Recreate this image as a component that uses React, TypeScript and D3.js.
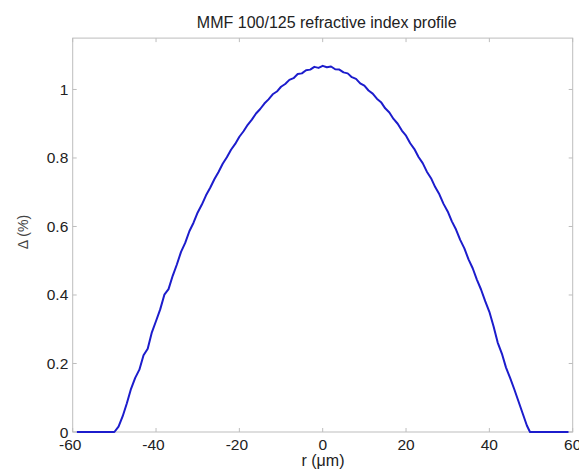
import React from "react";
import * as d3 from "d3";

const titleText = "MMF 100/125 refractive index profile";
const xLabel = "r (\u03bcm)";
const yLabel = "\u0394 (%)";

const xTicks = [-60, -40, -20, 0, 20, 40, 60];
const yTicks = [0, 0.2, 0.4, 0.6, 0.8, 1];

const radius = [
  -59, -58, -57, -56, -55, -54, -53, -52, -51, -50,
  -49, -48, -47, -46, -45, -44, -43, -42, -41, -40,
  -39, -38, -37, -36, -35, -34, -33, -32, -31, -30,
  -29, -28, -27, -26, -25, -24, -23, -22, -21, -20,
  -19, -18, -17, -16, -15, -14, -13, -12, -11, -10,
  -9, -8, -7, -6, -5, -4, -3, -2, -1, 0,
  1, 2, 3, 4, 5, 6, 7, 8, 9, 10,
  11, 12, 13, 14, 15, 16, 17, 18, 19, 20,
  21, 22, 23, 24, 25, 26, 27, 28, 29, 30,
  31, 32, 33, 34, 35, 36, 37, 38, 39, 40,
  41, 42, 43, 44, 45, 46, 47, 48, 49, 49.75,
  51, 52, 53, 54, 55, 56, 57, 58, 59,
];

const delta = [
  0, 0, 0, 0, 0, 0, 0, 0, 0, 0,
  0.016, 0.046, 0.084, 0.126, 0.158, 0.182, 0.224, 0.243, 0.291, 0.324,
  0.358, 0.401, 0.417, 0.456, 0.489, 0.526, 0.552, 0.586, 0.611, 0.641,
  0.664, 0.691, 0.713, 0.738, 0.759, 0.783, 0.802, 0.824, 0.841, 0.862,
  0.878, 0.897, 0.912, 0.930, 0.943, 0.959, 0.971, 0.986, 0.994, 1.008,
  1.016, 1.028, 1.033, 1.045, 1.047, 1.056, 1.058, 1.066, 1.063, 1.069,
  1.065, 1.067, 1.059, 1.058, 1.050, 1.047, 1.036, 1.031, 1.018, 1.011,
  0.997, 0.988, 0.973, 0.963, 0.945, 0.933, 0.914, 0.900, 0.880, 0.865,
  0.843, 0.826, 0.803, 0.785, 0.760, 0.741, 0.715, 0.694, 0.666, 0.644,
  0.615, 0.591, 0.561, 0.536, 0.504, 0.478, 0.445, 0.416, 0.382, 0.351,
  0.309, 0.261, 0.229, 0.188, 0.157, 0.124, 0.089, 0.054, 0.019, 0,
  0, 0, 0, 0, 0, 0, 0, 0, 0,
];

const W = 579;
const H = 469;
const left = 72.7;
const right = 572.7;
const top = 38.1;
const bottom = 432;

export default function App() {
  const x = d3.scaleLinear().domain([-60, 60]).range([left, right]);
  const y = d3.scaleLinear().domain([0, 1.15]).range([bottom, top]);
  const pts: [number, number][] = radius.map((r, i) => [r, delta[i]]);
  const line = d3
    .line<[number, number]>()
    .x((d) => x(d[0]))
    .y((d) => y(d[1]));
  const axisColor = "#bdbdbd";
  const textColor = "#222";
  const font = "'Liberation Sans', Arial, Helvetica, sans-serif";
  const tl = 4;
  return (
    <svg
      width={W}
      height={H}
      style={{ position: "absolute", left: 0, top: 0, background: "#fff" }}
      fontFamily={font}
    >
      <rect x={0} y={0} width={W} height={H} fill="#fff" />
      <text x={326.7} y={27.7} textAnchor="middle" fontSize={16} fill={textColor}>
        {titleText}
      </text>
      <rect
        x={left}
        y={top}
        width={right - left}
        height={bottom - top}
        fill="none"
        stroke={axisColor}
        strokeWidth={1}
      />
      {xTicks.map((t) => (
        <g key={"x" + t}>
          <line x1={x(t)} x2={x(t)} y1={bottom} y2={bottom - tl} stroke={axisColor} />
          <line x1={x(t)} x2={x(t)} y1={top} y2={top + tl} stroke={axisColor} />
          <text
            x={x(t) - (t < 0 ? 2.5 : 0)}
            y={450}
            textAnchor="middle"
            fontSize={15.5}
            fill={textColor}
          >
            {t < 0 ? "-" + Math.abs(t) : String(t)}
          </text>
        </g>
      ))}
      {yTicks.map((t) => (
        <g key={"y" + t}>
          <line x1={left} x2={left + tl} y1={y(t)} y2={y(t)} stroke={axisColor} />
          <line x1={right} x2={right - tl} y1={y(t)} y2={y(t)} stroke={axisColor} />
          <text x={68.3} y={y(t) + 5.5} textAnchor="end" fontSize={15.5} fill={textColor}>
            {String(t)}
          </text>
        </g>
      ))}
      <path d={line(pts) || ""} fill="none" stroke="#1c1ccc" strokeWidth={2} strokeLinejoin="round" />
      <text x={323} y={466} textAnchor="middle" fontSize={16} fill={textColor}>
        {xLabel}
      </text>
      <text
        transform={`translate(28,232) rotate(-90)`}
        textAnchor="middle"
        fontSize={14}
        fill="#444"
      >
        {yLabel}
      </text>
    </svg>
  );
}
